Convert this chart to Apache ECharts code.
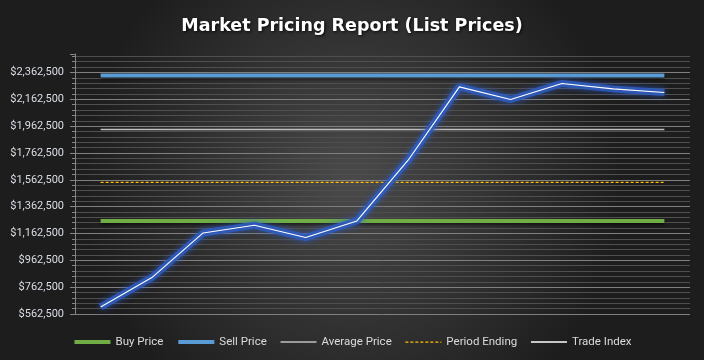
<!DOCTYPE html>
<html>
<head>
<meta charset="utf-8">
<script src="https://cdn.jsdelivr.net/npm/echarts@6/dist/echarts.min.js"></script>
<style>html,body{margin:0;padding:0;background:#2a2a2a}#c{width:704px;height:360px}</style>
</head>
<body>
<div id="c"></div>
<script>
const categories = ['1','2','3','4','5','6','7','8','9','10','11','12'];
const buyPrice = [1256000,1256000,1256000,1256000,1256000,1256000,1256000,1256000,1256000,1256000,1256000,1256000];
const sellPrice = [2340000,2340000,2340000,2340000,2340000,2340000,2340000,2340000,2340000,2340000,2340000,2340000];
const averagePrice = [1937500,1937500,1937500,1937500,1937500,1937500,1937500,1937500,1937500,1937500,1937500,1937500];
const periodEnding = [1542500,1542500,1542500,1542500,1542500,1542500,1542500,1542500,1542500,1542500,1542500,1542500];
const tradeIndex = [615000,834000,1166500,1224000,1132000,1256000,1708500,2255000,2161000,2280500,2240000,2213500];
const yTicks = [562500,762500,962500,1162500,1362500,1562500,1762500,1962500,2162500,2362500];
const seriesNames = ['Buy Price','Sell Price','Average Price','Period Ending','Trade Index'];

const chart = echarts.init(document.getElementById('c'), null, {renderer:'canvas'});
const fmt = v => '$' + Math.round(v).toLocaleString('en-US');
const gridColors = yTicks.map(() => '#808080').concat(['rgba(0,0,0,0)']);
const legendWidths = [4, 4, 1.5, 1.25, 1.5];

chart.setOption({
  animation: false,
  backgroundColor: {
    type: 'radial', x: 0.5, y: 0.5, r: 0.75,
    colorStops: [{offset: 0, color: '#4a4a4a'}, {offset: 1, color: '#1d1d1d'}]
  },
  title: {
    text: 'Market Pricing Report (List Prices)',
    left: 'center', top: 12,
    textStyle: {
      fontFamily: 'DejaVu Sans', fontWeight: 'bold', fontSize: 17.5, color: '#ffffff',
      textShadowColor: 'rgba(0,0,0,0.85)', textShadowBlur: 3, textShadowOffsetX: 1, textShadowOffsetY: 1
    }
  },
  legend: {
    data: seriesNames.map((n, i) => ({name: n, lineStyle: {width: legendWidths[i]}})),
    left: 'center', top: 331,
    itemWidth: 36, itemHeight: 14, itemGap: 13,
    itemStyle: {opacity: 0},
    textStyle: {fontFamily: 'Roboto', fontSize: 11.5, color: '#dcdcdc'}
  },
  grid: {left: 75, right: 14, top: 54, bottom: 46},
  xAxis: {
    type: 'category', data: categories, boundaryGap: true,
    axisLine: {show: false}, axisTick: {show: false}, axisLabel: {show: false}, splitLine: {show: false}
  },
  yAxis: {
    type: 'value', min: yTicks[0], max: 2500000, interval: 200000,
    axisLine: {show: true, lineStyle: {color: '#858585', width: 1}},
    axisTick: {show: true, inside: false, length: 5, lineStyle: {color: '#858585'}},
    minorTick: {show: true, splitNumber: 5, length: 3, lineStyle: {color: '#858585'}},
    axisLabel: {
      showMaxLabel: false, margin: 11,
      fontFamily: 'Roboto', fontSize: 11, color: '#dadfe6',
      formatter: v => yTicks.indexOf(v) >= 0 ? fmt(v) : ''
    },
    splitLine: {show: true, lineStyle: {color: gridColors, width: 1}},
    minorSplitLine: {show: true, lineStyle: {color: '#4f4f4f', width: 1}}
  },
  series: [
    {name: 'Buy Price', type: 'line', data: buyPrice, symbol: 'none', z: 2,
     lineStyle: {color: '#70ad47', width: 4, shadowColor: 'rgba(0,0,0,0.55)', shadowBlur: 3, shadowOffsetY: 2},
     itemStyle: {color: '#70ad47'}},
    {name: 'Sell Price', type: 'line', data: sellPrice, symbol: 'none', z: 2,
     lineStyle: {color: '#5b9bd5', width: 4, shadowColor: 'rgba(0,0,0,0.55)', shadowBlur: 3, shadowOffsetY: 2},
     itemStyle: {color: '#5b9bd5'}},
    {name: 'Average Price', type: 'line', data: averagePrice, symbol: 'none', z: 2,
     lineStyle: {color: '#c0c0c0', width: 1.5}, itemStyle: {color: '#c0c0c0'}},
    {name: 'Period Ending', type: 'line', data: periodEnding, symbol: 'none', z: 2,
     lineStyle: {color: '#ffc000', width: 1.25, type: [3, 2]}, itemStyle: {color: '#ffc000'}},
    {name: 'Trade Index glow', type: 'line', data: tradeIndex, symbol: 'none', z: 3, silent: true,
     lineStyle: {color: 'rgba(46,92,190,0.85)', width: 7, shadowColor: 'rgba(46,92,200,0.9)', shadowBlur: 6},
     itemStyle: {color: '#2e5cbe'}},
    {name: 'Trade Index', type: 'line', data: tradeIndex, symbol: 'none', z: 4,
     lineStyle: {color: '#ffffff', width: 1.1}, itemStyle: {color: '#ffffff'}}
  ]
});
</script>
</body>
</html>
